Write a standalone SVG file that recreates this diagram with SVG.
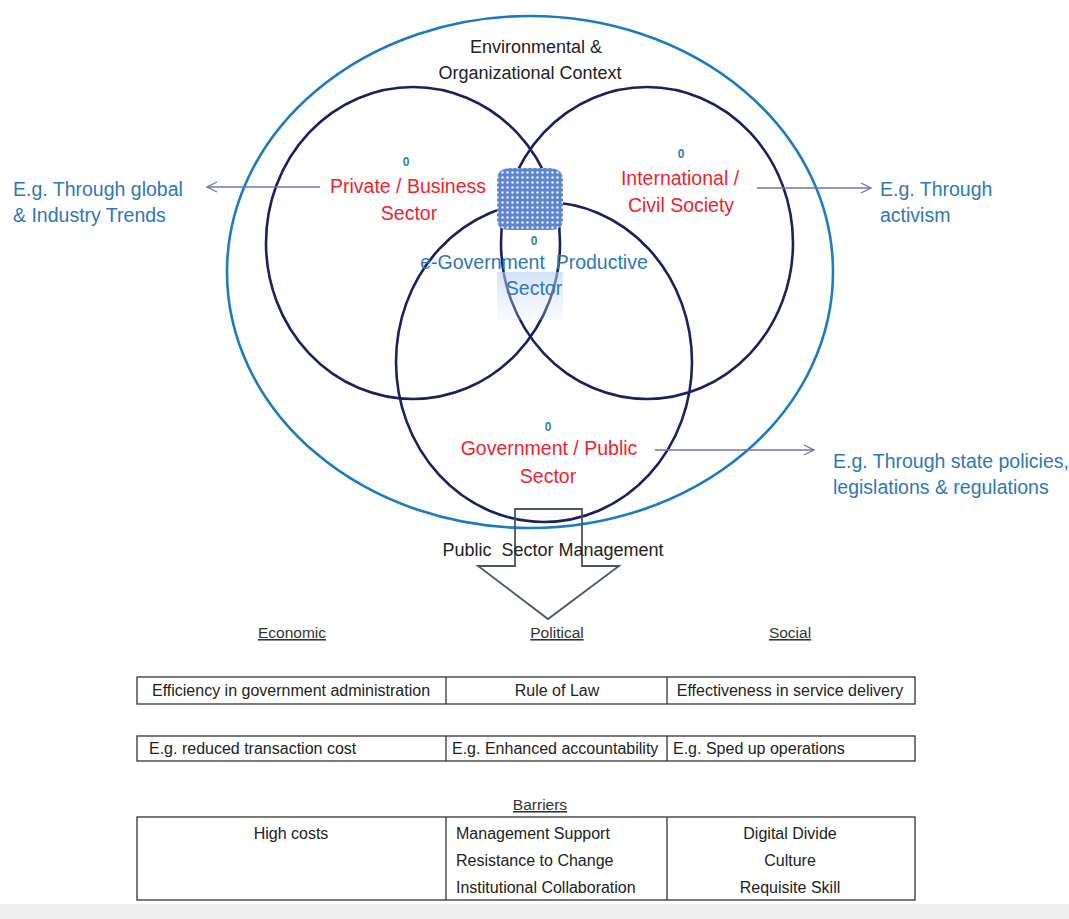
<svg xmlns="http://www.w3.org/2000/svg" width="1069" height="919" viewBox="0 0 1069 919">
  <defs>
    <style>
      .ring { fill: none; stroke: #1b2160; stroke-width: 2.6; }
      .outer { fill: none; stroke: #1c7cc2; stroke-width: 2.6; }
      .lbl { font-family: "Liberation Sans", Arial, sans-serif; }
      .dark { fill: #222; font-size: 18px; }
      .red { fill: #f01f2c; font-size: 19.5px; }
      .blue { fill: #2e78b8; font-size: 19.5px; }
      .zero { fill: #2f7fa8; font-size: 12px; font-weight: bold; }
      .tbl { fill: #222; font-size: 16px; }
      .hdr { fill: #333; font-size: 15.5px; text-decoration: underline; }
      .cell { fill: #fff; stroke: #333; stroke-width: 1.3; }
      .link { fill: none; stroke: #7270b4; stroke-width: 1.4; }
    </style>
    <marker id="open-head" viewBox="0 0 12 12" refX="11" refY="6" markerWidth="12" markerHeight="12" markerUnits="userSpaceOnUse" orient="auto">
      <path d="M1,1 L11,6 L1,11" fill="none" stroke="#7270b4" stroke-width="1.3"/>
    </marker>
    <pattern id="dots" width="5" height="5" patternUnits="userSpaceOnUse">
      <rect width="5" height="5" fill="#5f86cc"/>
      <circle cx="2.5" cy="2.5" r="1.2" fill="#e8eefa"/>
    </pattern>
    <linearGradient id="fade" x1="0" y1="0" x2="0" y2="1">
      <stop offset="0" stop-color="#b7cdee" stop-opacity="0.6"/>
      <stop offset="1" stop-color="#dce8f7" stop-opacity="0.2"/>
    </linearGradient>
  </defs>

  <rect width="1069" height="919" fill="#ffffff"/>

  <!-- context ellipse -->
  <g id="context">
    <ellipse class="outer" cx="530" cy="272" rx="303" ry="256"/>
    <text class="lbl dark" x="536" y="53" text-anchor="middle">Environmental &amp;</text>
    <text class="lbl dark" x="530" y="79" text-anchor="middle">Organizational Context</text>
  </g>

  <!-- sector rings -->
  <g id="private-sector">
    <ellipse class="ring" cx="413" cy="243" rx="147" ry="156"/>
    <text class="lbl zero" x="406" y="166" text-anchor="middle">0</text>
    <text class="lbl red" x="408" y="193" text-anchor="middle">Private / Business</text>
    <text class="lbl red" x="409" y="220" text-anchor="middle">Sector</text>
  </g>
  <g id="civil-society">
    <ellipse class="ring" cx="647" cy="243" rx="146" ry="156"/>
    <text class="lbl zero" x="681" y="158" text-anchor="middle">0</text>
    <text class="lbl red" x="680" y="185" text-anchor="middle">International /</text>
    <text class="lbl red" x="681" y="212" text-anchor="middle">Civil Society</text>
  </g>
  <g id="public-sector">
    <ellipse class="ring" cx="544" cy="362" rx="148" ry="160"/>
    <text class="lbl zero" x="548" y="431" text-anchor="middle">0</text>
    <text class="lbl red" x="549" y="455" text-anchor="middle">Government / Public</text>
    <text class="lbl red" x="548" y="483" text-anchor="middle">Sector</text>
  </g>

  <!-- e-government core -->
  <g id="egov-core">
    <rect x="497" y="272" width="66" height="48" fill="url(#fade)"/>
    <path d="M497,180 Q497,168 512,168 L548,168 Q563,168 563,180 L563,220 Q563,230 550,230 L510,230 Q497,230 497,220 Z" fill="url(#dots)"/>
    <text class="lbl zero" x="534" y="245" text-anchor="middle">0</text>
    <text class="lbl blue" x="534" y="269" text-anchor="middle" xml:space="preserve">e-Government  Productive</text>
    <text class="lbl blue" x="534" y="295" text-anchor="middle">Sector</text>
  </g>

  <!-- influence labels -->
  <g id="trend-labels">
    <text class="lbl blue" x="13" y="196">E.g. Through global</text>
    <text class="lbl blue" x="13" y="222">&amp; Industry Trends</text>
    <text class="lbl blue" x="880" y="196">E.g. Through</text>
    <text class="lbl blue" x="880" y="222">activism</text>
    <text class="lbl blue" x="833" y="468">E.g. Through state policies,</text>
    <text class="lbl blue" x="833" y="494">legislations &amp; regulations</text>
  </g>

  <!-- connectors -->
  <g id="connectors">
    <line class="link" x1="320" y1="187" x2="207" y2="187" marker-end="url(#open-head)"/>
    <line class="link" x1="757" y1="188" x2="871" y2="188" marker-end="url(#open-head)"/>
    <line class="link" x1="655" y1="450" x2="814" y2="450" marker-end="url(#open-head)"/>
  </g>

  <!-- management arrow -->
  <g id="management">
    <path d="M515,509 L582,509 L582,566 L619,566 L548,619 L478,566 L515,566 Z" fill="none" stroke="#4a5568" stroke-width="1.8"/>
    <text class="lbl dark" x="553" y="556" text-anchor="middle" xml:space="preserve">Public  Sector Management</text>
  </g>

  <!-- outcomes -->
  <g id="outcomes">
    <text class="lbl hdr" x="292" y="638" text-anchor="middle">Economic</text>
    <text class="lbl hdr" x="557" y="638" text-anchor="middle">Political</text>
    <text class="lbl hdr" x="790" y="638" text-anchor="middle">Social</text>

    <rect class="cell" x="137" y="677" width="778" height="27"/>
    <line class="cell" x1="446" y1="677" x2="446" y2="704"/>
    <line class="cell" x1="667" y1="677" x2="667" y2="704"/>
    <text class="lbl tbl" x="291" y="696" text-anchor="middle">Efficiency in government administration</text>
    <text class="lbl tbl" x="557" y="696" text-anchor="middle">Rule of Law</text>
    <text class="lbl tbl" x="790" y="696" text-anchor="middle">Effectiveness in service delivery</text>

    <rect class="cell" x="137" y="736" width="778" height="25"/>
    <line class="cell" x1="446" y1="736" x2="446" y2="761"/>
    <line class="cell" x1="667" y1="736" x2="667" y2="761"/>
    <text class="lbl tbl" x="149" y="754">E.g. reduced transaction cost</text>
    <text class="lbl tbl" x="452" y="754">E.g. Enhanced accountability</text>
    <text class="lbl tbl" x="673" y="754">E.g. Sped up operations</text>
  </g>

  <!-- barriers -->
  <g id="barriers">
    <text class="lbl hdr" x="540" y="810" text-anchor="middle">Barriers</text>
    <rect class="cell" x="137" y="817" width="778" height="83"/>
    <line class="cell" x1="446" y1="817" x2="446" y2="900"/>
    <line class="cell" x1="667" y1="817" x2="667" y2="900"/>
    <text class="lbl tbl" x="291" y="839" text-anchor="middle">High costs</text>
    <text class="lbl tbl" x="456" y="839">Management Support</text>
    <text class="lbl tbl" x="456" y="866">Resistance to Change</text>
    <text class="lbl tbl" x="456" y="893">Institutional Collaboration</text>
    <text class="lbl tbl" x="790" y="839" text-anchor="middle">Digital Divide</text>
    <text class="lbl tbl" x="790" y="866" text-anchor="middle">Culture</text>
    <text class="lbl tbl" x="790" y="893" text-anchor="middle">Requisite Skill</text>
  </g>

  <rect x="0" y="904" width="1069" height="15" fill="#eeeeee"/>
</svg>
